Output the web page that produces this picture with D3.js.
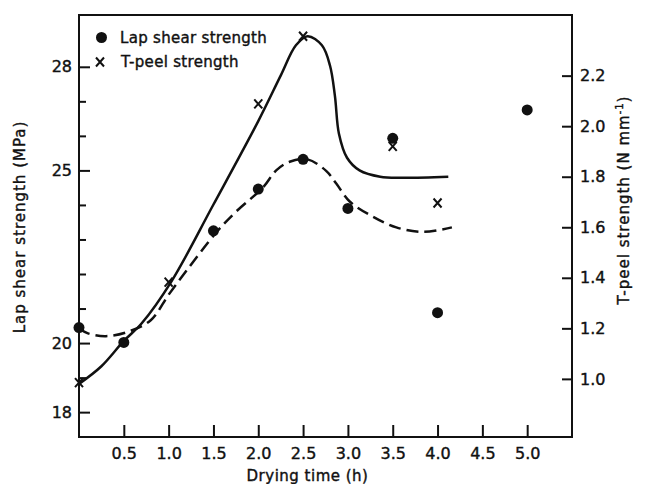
<!DOCTYPE html>
<html>
<head>
<meta charset="utf-8">
<script src="https://cdn.jsdelivr.net/npm/d3@7"></script>
<style>
  body { margin: 0; background: #fff; }
  svg text { font-family: "DejaVu Sans", sans-serif; fill: #111; stroke: #111; stroke-width: 0.4px; }
</style>
</head>
<body>
<div id="chart"></div>
<script>
// measured points
var dryTime = [0, 0.5, 1.5, 2.0, 2.5, 3.0, 3.5, 4.0, 5.0];
var lapShear = [20.45, 20.02, 23.25, 24.46, 25.32, 23.9, 25.93, 20.88, 26.75];

var peelTime = [0, 1.0, 2.0, 2.5, 3.5, 4.0];
var tPeel = [0.985, 1.383, 2.088, 2.356, 1.92, 1.696];

// hand drawn trend curves
var shearCurveT = [0, 0.1, 0.3, 0.55, 0.8, 1.0, 1.2, 1.53, 1.75, 2.05, 2.2, 2.35, 2.55, 2.76, 2.87, 3.02, 3.28, 3.54, 3.84, 4.16];
var shearCurveV = [20.42, 20.28, 20.2, 20.33, 20.66, 21.4, 22.1, 23.2, 23.8, 24.5, 25.0, 25.25, 25.32, 24.98, 24.62, 24.1, 23.66, 23.35, 23.22, 23.35];

var peelCurveT = [0, 0.25, 0.5, 0.7, 1.03, 1.5, 2.0, 2.25, 2.42, 2.55, 2.71, 2.8, 2.855, 2.9, 2.99, 3.13, 3.36, 3.6, 4.12];
var peelCurveV = [0.98, 1.05, 1.15, 1.22, 1.385, 1.69, 2.02, 2.2, 2.32, 2.356, 2.32, 2.24, 2.12, 1.97, 1.875, 1.825, 1.80, 1.796, 1.80];

// ticks
var xTicks = [0.5, 1.0, 1.5, 2.0, 2.5, 3.0, 3.5, 4.0, 4.5, 5.0];
var shearTicks = [18, 20, 25, 28];
var shearMinor = [19, 21, 22, 23, 24, 26, 27];
var peelTicks = [1.0, 1.2, 1.4, 1.6, 1.8, 2.0, 2.2];

var svgWidth = 645;
var svgHeight = 484;

var margin = {
  top: 15,
  right: 73,
  bottom: 47,
  left: 79
};

var width = svgWidth - margin.left - margin.right;
var height = svgHeight - margin.top - margin.bottom;

var svg = d3.select("#chart")
  .append("svg")
  .attr("width", svgWidth)
  .attr("height", svgHeight);

var chartGroup = svg.append("g")
  .attr("transform", `translate(${margin.left}, ${margin.top})`);

var x = d3.scaleLinear().domain([0, 5.5]).range([0, width]);
var yL = d3.scaleLinear().domain([17.28, 29.5]).range([height, 0]);
var yR = d3.scaleLinear().domain([0.77, 2.44]).range([height, 0]);

// axes (ticks point inward)
var bottomAxis = d3.axisBottom(x)
  .tickValues(xTicks)
  .tickFormat(d3.format(".1f"))
  .tickSizeInner(-12)
  .tickSizeOuter(0)
  .tickPadding(11);

var leftAxis = d3.axisLeft(yL)
  .tickValues(shearTicks)
  .tickFormat(d3.format("d"))
  .tickSizeInner(-11)
  .tickSizeOuter(0)
  .tickPadding(7);

var leftMinor = d3.axisLeft(yL)
  .tickValues(shearMinor)
  .tickFormat("")
  .tickSizeInner(-7)
  .tickSizeOuter(0);

var rightAxis = d3.axisRight(yR)
  .tickValues(peelTicks)
  .tickFormat(d3.format(".1f"))
  .tickSizeInner(-10)
  .tickSizeOuter(0)
  .tickPadding(8);

function styleAxis(g) {
  g.select(".domain").remove();
  g.selectAll("line").attr("stroke", "#111").attr("stroke-width", 2);
  g.selectAll("text")
    .attr("font-family", "DejaVu Sans, sans-serif")
    .attr("font-size", 16)
    .attr("fill", "#111");
}

chartGroup.append("g")
  .attr("transform", `translate(0, ${height})`)
  .call(bottomAxis)
  .call(styleAxis);

chartGroup.append("g")
  .call(leftAxis)
  .call(styleAxis);

chartGroup.append("g")
  .call(leftMinor)
  .call(styleAxis);

chartGroup.append("g")
  .attr("transform", `translate(${width}, 0)`)
  .call(rightAxis)
  .call(styleAxis);

// frame
chartGroup.append("rect")
  .attr("x", 0)
  .attr("y", 0)
  .attr("width", width)
  .attr("height", height)
  .attr("fill", "none")
  .attr("stroke", "#111")
  .attr("stroke-width", 2);

// axis titles
chartGroup.append("text")
  .attr("transform", `translate(${width / 2 - 18}, ${height + 44})`)
  .attr("text-anchor", "middle")
  .attr("font-size", 15)
  .attr("letter-spacing", 0.5)
  .text("Drying time (h)");

chartGroup.append("text")
  .attr("transform", `translate(${25 - margin.left}, 212) rotate(-90)`)
  .attr("text-anchor", "middle")
  .attr("font-size", 15)
  .attr("letter-spacing", 1)
  .text("Lap shear strength (MPa)");

var peelTitle = chartGroup.append("text")
  .attr("transform", `translate(${width + 57}, 185) rotate(-90)`)
  .attr("text-anchor", "middle")
  .attr("font-size", 15)
  .attr("letter-spacing", 1);
peelTitle.append("tspan").text("T-peel strength (N mm");
peelTitle.append("tspan").attr("dy", -6).attr("font-size", 10).text("-1");
peelTitle.append("tspan").attr("dy", 6).text(")");

// trend curves
var shearLine = d3.line()
  .x(d => x(d[0]))
  .y(d => yL(d[1]))
  .curve(d3.curveCatmullRom.alpha(0.5));

var peelLine = d3.line()
  .x(d => x(d[0]))
  .y(d => yR(d[1]))
  .curve(d3.curveCatmullRom.alpha(0.5));

chartGroup.append("path")
  .datum(d3.zip(shearCurveT, shearCurveV))
  .attr("d", shearLine)
  .attr("fill", "none")
  .attr("stroke", "#111")
  .attr("stroke-width", 2.5)
  .attr("stroke-dasharray", "12,6");

chartGroup.append("path")
  .datum(d3.zip(peelCurveT, peelCurveV))
  .attr("d", peelLine)
  .attr("fill", "none")
  .attr("stroke", "#111")
  .attr("stroke-width", 2.5);

// markers
var crossPath = "M-4,-4.5L4,4.5M-4,4.5L4,-4.5";

chartGroup.selectAll("circle.shear")
  .data(d3.zip(dryTime, lapShear))
  .enter()
  .append("circle")
  .classed("shear", true)
  .attr("cx", d => x(d[0]))
  .attr("cy", d => yL(d[1]))
  .attr("r", 5.5)
  .attr("fill", "#111");

chartGroup.selectAll("path.peel")
  .data(d3.zip(peelTime, tPeel))
  .enter()
  .append("path")
  .classed("peel", true)
  .attr("transform", d => `translate(${x(d[0])}, ${yR(d[1])})`)
  .attr("d", crossPath)
  .attr("stroke", "#111")
  .attr("stroke-width", 2)
  .attr("fill", "none");

// legend
var legend = chartGroup.append("g")
  .attr("transform", "translate(22, 22)");

legend.append("circle")
  .attr("cx", 0.5)
  .attr("cy", 0.5)
  .attr("r", 5.5)
  .attr("fill", "#111");

legend.append("text")
  .attr("x", 19)
  .attr("y", 5.5)
  .attr("font-size", 15)
  .attr("letter-spacing", 0.3)
  .text("Lap shear strength");

legend.append("path")
  .attr("transform", "translate(-1, 25)")
  .attr("d", crossPath)
  .attr("stroke", "#111")
  .attr("stroke-width", 2)
  .attr("fill", "none");

legend.append("text")
  .attr("x", 20)
  .attr("y", 29.5)
  .attr("font-size", 15)
  .attr("letter-spacing", 0.3)
  .text("T-peel strength");
</script>
</body>
</html>
